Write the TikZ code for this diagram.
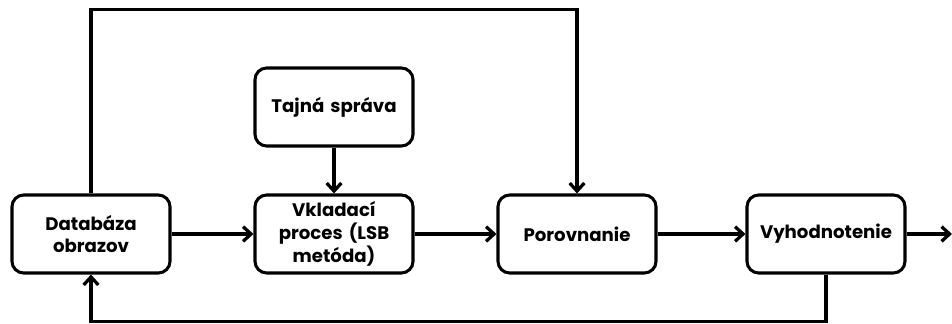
\documentclass[tikz,border=0pt]{standalone}
\usepackage{fontspec}
\setmainfont{Poppins}
\usetikzlibrary{arrows.meta}

\tikzset{
  blok/.style={draw, line width=2.6pt, rounded corners=0.35cm, minimum width=4.74cm,
    minimum height=2.34cm, align=center, text width=4.2cm,
    font=\fontsize{15.5}{19.5}\selectfont\bfseries},
  tok/.style={line width=2.8pt, -{Straight Barb[length=2.4mm,width=4.4mm]}}
}

\begin{document}
\begin{tikzpicture}
\useasboundingbox (0,0) rectangle (28.56,9.69);
\node[blok] (db) at (2.73,2.67) {Databáza\\obrazov};
\node[blok] (tajna) at (10.02,6.48) {Tajná správa};
\node[blok] (vklad) at (10.02,2.67) {Vkladací\\proces (LSB\\metóda)};
\node[blok] (por) at (17.31,2.67) {Porovnanie};
\node[blok] (vyh) at (24.78,2.67) {Vyhodnotenie};
\coordinate (von) at (28.56,2.67);
\draw[tok] (db) -- (vklad);
\draw[tok] (tajna) -- (vklad);
\draw[tok] (vklad) -- (por);
\draw[tok] (por) -- (vyh);
\draw[tok] (vyh) -- (von);
% spätné väzby
\draw[tok] (db.north) -- ++(0,5.52) -| (por.north);
\draw[tok] (vyh.south) -- ++(0,-1.41) -| (db.south);
\end{tikzpicture}
\end{document}
